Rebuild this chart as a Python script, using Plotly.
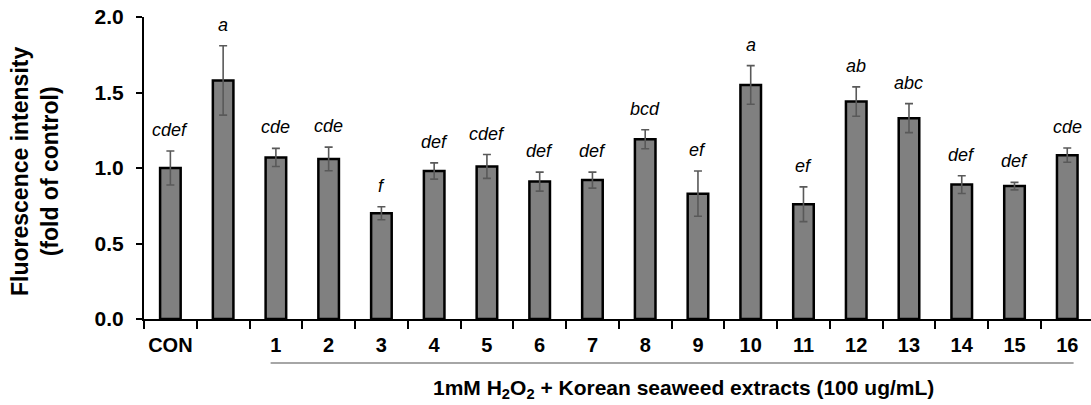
import plotly.graph_objects as go

categories = ["CON", "H2O2", "1", "2", "3", "4", "5", "6", "7", "8",
              "9", "10", "11", "12", "13", "14", "15", "16"]
tick_labels = ["CON", "", "1", "2", "3", "4", "5", "6", "7", "8",
               "9", "10", "11", "12", "13", "14", "15", "16"]
means = [1.00, 1.58, 1.07, 1.06, 0.70, 0.98, 1.01, 0.91, 0.92, 1.19,
         0.83, 1.55, 0.76, 1.44, 1.33, 0.89, 0.88, 1.085]
errors = [0.113, 0.23, 0.06, 0.078, 0.043, 0.054, 0.079, 0.063, 0.053, 0.063,
          0.15, 0.128, 0.115, 0.097, 0.096, 0.059, 0.025, 0.047]
letters = ["cdef", "a", "cde", "cde", "f", "def", "cdef", "def", "def", "bcd",
           "ef", "a", "ef", "ab", "abc", "def", "def", "cde"]
y_ticks = [0.0, 0.5, 1.0, 1.5, 2.0]

FONT = "Liberation Sans, Arial, sans-serif"
xpos = list(range(len(categories)))

fig = go.Figure()
fig.add_trace(go.Bar(
    x=xpos, y=means, width=0.39,
    marker=dict(color="#808080", line=dict(color="black", width=2.5)),
    error_y=dict(type="data", array=errors, visible=True,
                 color="#595959", thickness=1.6, width=4),
    hovertext=categories,
))

for xi, m, e, t in zip(xpos, means, errors, letters):
    fig.add_annotation(x=xi, y=m + e, text=t, showarrow=False,
                       yanchor="bottom", yshift=9,
                       font=dict(family=FONT, size=18, color="black", style="italic"))

L, T, B = 144, 17, 86
W, H = 1091, 405
pw, ph = W - L, H - T - B

# y-axis title
fig.add_annotation(xref="paper", yref="paper",
                   x=(35 - L) / pw, y=(H - B - 172) / ph,
                   text="<b>Fluorescence intensity<br>(fold of control)</b>",
                   textangle=-90, showarrow=False, xanchor="center", yanchor="middle",
                   font=dict(family=FONT, size=23, color="black"))
# x-axis group title
fig.add_annotation(xref="paper", yref="paper",
                   x=(683 - L) / pw, y=(H - B - 389) / ph,
                   text="<b>1mM H<sub>2</sub>O<sub>2</sub> + Korean seaweed extracts (100 ug/mL)</b>",
                   showarrow=False, xanchor="center", yanchor="middle",
                   font=dict(family=FONT, size=21, color="black"))
# group underline
fig.add_shape(type="line", xref="x", yref="paper",
              x0=1.9, x1=17.12, y0=(H - B - 363) / ph, y1=(H - B - 363) / ph,
              line=dict(color="#a6a6a6", width=2))

fig.update_layout(
    width=W, height=H,
    margin=dict(l=L, r=0, t=T, b=B),
    plot_bgcolor="white", paper_bgcolor="white",
    showlegend=False,
    font=dict(family=FONT, color="black"),
)
fig.update_xaxes(
    range=[-0.5, 17.45], tickmode="array", tickvals=xpos, ticktext=tick_labels,
    ticks="outside", ticklen=7, tickcolor="rgba(0,0,0,0)",
    showline=True, linecolor="black", linewidth=2,
    showgrid=False, zeroline=False,
    tickfont=dict(family=FONT, size=20, color="black", weight="bold"),
    minor=dict(tick0=-0.5, dtick=1, ticks="outside", ticklen=8,
               tickwidth=2, tickcolor="black", showgrid=False),
)
fig.update_yaxes(
    range=[0, 2.0], tickmode="array", tickvals=y_ticks,
    ticktext=[f"{v:.1f}" for v in y_ticks],
    ticks="outside", ticklen=6, tickwidth=2, tickcolor="black",
    showline=True, linecolor="black", linewidth=2,
    showgrid=False, zeroline=False, ticklabelstandoff=8,
    tickfont=dict(family=FONT, size=21, color="black", weight="bold"),
)

fig.write_html("out.html",
               config={"displayModeBar": False},
               post_script="document.body.style.margin='0';document.body.style.overflow='hidden';")
